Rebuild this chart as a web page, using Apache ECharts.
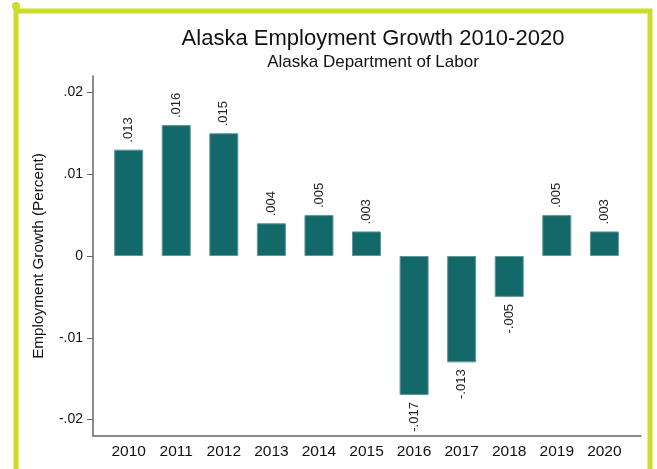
<!DOCTYPE html>
<html>
<head>
<meta charset="utf-8">
<script src="https://cdn.jsdelivr.net/npm/echarts@6/dist/echarts.min.js"></script>
<style>
  html, body { margin: 0; padding: 0; background: #fff; }
  #main { width: 657px; height: 469px; }
</style>
</head>
<body>
<div id="main"></div>
<script>
// data
var years = [2010, 2011, 2012, 2013, 2014, 2015, 2016, 2017, 2018, 2019, 2020];
var growth = [0.013, 0.016, 0.015, 0.004, 0.005, 0.003, -0.017, -0.013, -0.005, 0.005, 0.003];
var yTicks = [-0.02, -0.01, 0, 0.01, 0.02];

// stata style: .013 / -.017
function stataFmt(v) {
    if (v === 0) return '0';
    var s = String(+v.toFixed(3));
    return s.replace('0.', '.');
}

var myChart = echarts.init(document.getElementById('main'));

var barData = years.map(function (y, i) {
    var v = growth[i];
    return {
        value: [y, v],
        label: v >= 0
            ? { position: 'top', align: 'left' }
            : { position: 'bottom', align: 'right' }
    };
});

var option = {
    backgroundColor: '#fff',
    animation: false,
    title: {
        text: 'Alaska Employment Growth 2010-2020',
        subtext: 'Alaska Department of Labor',
        left: 368,
        top: 23,
        textAlign: 'center',
        itemGap: 4,
        textStyle: { fontFamily: 'Liberation Sans', fontSize: 22, fontWeight: 'normal', color: '#111' },
        subtextStyle: { fontFamily: 'Liberation Sans', fontSize: 17, color: '#111' }
    },
    grid: { left: 93, right: 16, top: 76, bottom: 33, containLabel: false },
    xAxis: {
        type: 'value',
        min: 2009.25,
        max: 2020.77,
        splitLine: { show: false },
        axisLine: { show: true, onZero: false, lineStyle: { color: '#666', width: 1.5 } },
        axisTick: { show: false },
        axisLabel: {
            customValues: years,
            margin: 8,
            fontFamily: 'Liberation Sans',
            fontSize: 15.5,
            color: '#111',
            formatter: function (v) { return String(Math.round(v)); }
        }
    },
    yAxis: {
        type: 'value',
        min: -0.022,
        max: 0.022,
        name: 'Employment Growth (Percent)',
        nameLocation: 'middle',
        nameRotate: 90,
        nameGap: 47,
        nameTextStyle: { fontFamily: 'Liberation Sans', fontSize: 15.3, color: '#111' },
        splitLine: { show: false },
        axisLine: { show: true, onZero: false, lineStyle: { color: '#666', width: 1.5 } },
        axisTick: { show: true, length: 6, customValues: yTicks, lineStyle: { color: '#666' } },
        axisLabel: {
            customValues: yTicks,
            margin: 10,
            fontFamily: 'Liberation Sans',
            fontSize: 14,
            color: '#111',
            formatter: function (v) { return stataFmt(v); }
        }
    },
    series: [{
        type: 'bar',
        barWidth: 29,
        data: barData,
        itemStyle: { color: '#136969', borderColor: '#5f9696', borderWidth: 1 },
        label: {
            show: true,
            rotate: 90,
            verticalAlign: 'middle',
            distance: 7,
            fontFamily: 'Liberation Sans',
            fontSize: 13,
            color: '#222',
            formatter: function (p) { return stataFmt(p.value[1]); }
        }
    }],
    graphic: [
        {
            type: 'rect',
            shape: { x: 16, y: 11, width: 634, height: 480 },
            style: { fill: 'none', stroke: '#cadd2a', lineWidth: 5 },
            z: 10
        },
        {
            type: 'circle',
            shape: { cx: 16, cy: 6, r: 4 },
            style: { fill: '#cadd2a' },
            z: 10
        }
    ]
};

myChart.setOption(option);
</script>
</body>
</html>
